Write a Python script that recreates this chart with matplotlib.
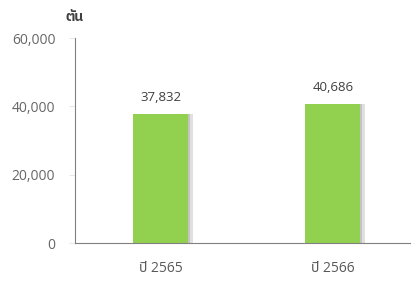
import matplotlib
matplotlib.use("Agg")
import matplotlib.pyplot as plt

# ข้อมูล
years = ["ปี 2565", "ปี 2566"]
values = [37832, 40686]
yticks = [0, 20000, 40000, 60000]

plt.rcParams['font.family'] = ['Open Sans', 'Noto Sans Thai', 'DejaVu Sans']

fig = plt.figure(figsize=(4.11, 2.84), dpi=100)
ax = fig.add_axes([0.182, 0.144, 0.837, 0.722])
x = range(len(years))
# เงาด้านขวาของแท่ง
ax.bar([i + 0.025 for i in x], values, width=0.32, color="#9a9a9a", alpha=0.3)
ax.bar([i + 0.012 for i in x], values, width=0.32, color="#9a9a9a", alpha=0.4)
ax.bar(x, values, width=0.32, color="#92d050")
for i, v in zip(x, values):
    ax.annotate(f"{v:,}", (i, v), xytext=(0, 7), textcoords="offset points",
                ha="center", va="bottom", fontsize=9.5, color="#404040")
ax.set_xlim(-0.5, 1.5)
ax.set_ylim(0, 60000)
ax.set_yticks(yticks)
ax.set_yticklabels([f"{t:,}" for t in yticks])
ax.set_xticks(list(x))
ax.set_xticklabels(years)
for s in ["top", "right"]:
    ax.spines[s].set_visible(False)
for s in ["left", "bottom"]:
    ax.spines[s].set_color("#808080")
ax.tick_params(axis="y", length=4, color="#e8e8e8", pad=10, labelsize=10, labelcolor="#666666")
ax.tick_params(axis="x", length=0, pad=13, labelsize=10, labelcolor="#595959")
fig.text(0.182, 0.94, "ตัน", ha="center", va="center", fontsize=10,
         family=["IBM Plex Sans Thai", "Noto Sans Thai"], fontweight="bold", color="#404040")
fig.savefig("out.png")
